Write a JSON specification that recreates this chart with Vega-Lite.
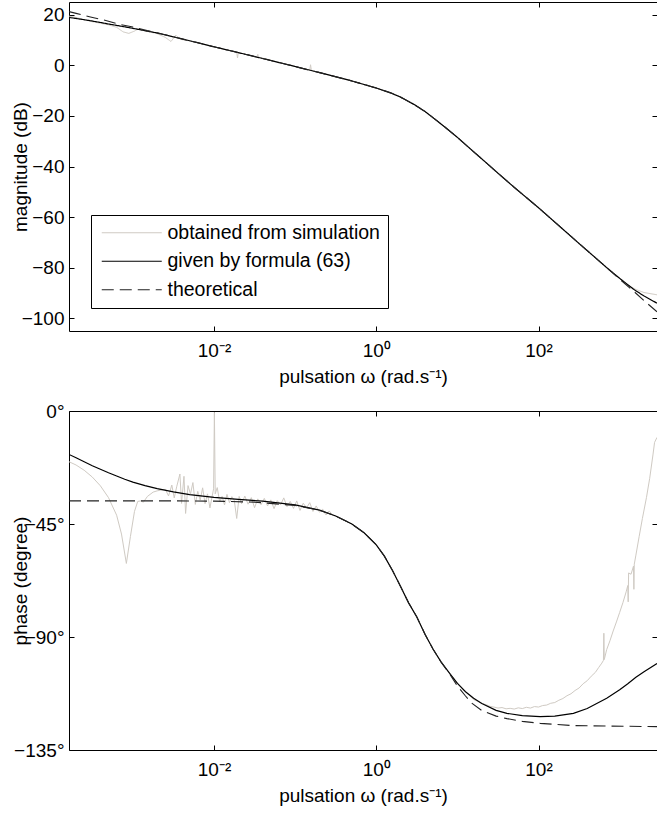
{
"$schema": "https://vega.github.io/schema/vega-lite/v6.json",
"padding": {"left": 10, "top": 1, "right": 0, "bottom": 0},
"background": "white",
"config": {
  "font": "Liberation Sans",
  "view": {"stroke": "#000", "strokeWidth": 1},
  "axis": {"grid": false, "domain": false, "ticks": true, "tickSize": -5, "tickColor": "#000", "tickWidth": 1, "labelFontSize": 19, "titleFontSize": 19, "labelColor": "#000", "titleColor": "#000", "titleFontWeight": "normal", "labelFont": "Liberation Sans", "titleFont": "Liberation Sans"},
  "axisX": {"labelPadding": 15, "titlePadding": 7},
  "axisY": {"labelPadding": 10, "titleX": -39},
  "concat": {"spacing": 14}
},
"datasets": {
"mag": [
{"x":-3.787,"y":21.2,"s":"th"},{"x":-3.7,"y":20.5,"s":"th"},{"x":-3.523,"y":19.1,"s":"th"},{"x":-3.398,"y":18.2,"s":"th"},{"x":-3.301,"y":17.4,"s":"th"},{"x":-3.155,"y":16.1,"s":"th"},{"x":-3,"y":15.1,"s":"th"},{"x":-2.824,"y":13.7,"s":"th"},{"x":-2.699,"y":12.8,"s":"th"},{"x":-2.523,"y":11.4,"s":"th"},{"x":-2.301,"y":9.7,"s":"th"},{"x":-2,"y":7.3,"s":"th"},{"x":-1.699,"y":5.0,"s":"th"},{"x":-1.301,"y":1.9,"s":"th"},{"x":-1,"y":-0.5,"s":"th"},{"x":-0.699,"y":-2.9,"s":"th"},{"x":-0.301,"y":-6.2,"s":"th"},{"x":0,"y":-9.0,"s":"th"},{"x":0.176,"y":-10.9,"s":"th"},{"x":0.301,"y":-12.6,"s":"th"},{"x":0.477,"y":-15.7,"s":"th"},{"x":0.602,"y":-18.3,"s":"th"},{"x":0.699,"y":-20.7,"s":"th"},{"x":0.845,"y":-24.4,"s":"th"},{"x":1,"y":-28.5,"s":"th"},{"x":1.176,"y":-33.5,"s":"th"},{"x":1.301,"y":-37.0,"s":"th"},{"x":1.477,"y":-42.0,"s":"th"},{"x":1.699,"y":-48.2,"s":"th"},{"x":2,"y":-56.3,"s":"th"},{"x":2.301,"y":-64.8,"s":"th"},{"x":2.477,"y":-69.8,"s":"th"},{"x":2.699,"y":-76.0,"s":"th"},{"x":2.845,"y":-80.1,"s":"th"},{"x":3,"y":-84.5,"s":"th"},{"x":3.176,"y":-89.4,"s":"th"},{"x":3.301,"y":-93.0,"s":"th"},{"x":3.46,"y":-97.4,"s":"th"},
{"x":-3.787,"y":18.9,"s":"fit"},{"x":-3.7,"y":18.5,"s":"fit"},{"x":-3.523,"y":17.6,"s":"fit"},{"x":-3.398,"y":16.9,"s":"fit"},{"x":-3.301,"y":16.3,"s":"fit"},{"x":-3.155,"y":15.5,"s":"fit"},{"x":-3,"y":14.6,"s":"fit"},{"x":-2.824,"y":13.5,"s":"fit"},{"x":-2.699,"y":12.75,"s":"fit"},{"x":-2.523,"y":11.4,"s":"fit"},{"x":-2.301,"y":9.7,"s":"fit"},{"x":-2,"y":7.3,"s":"fit"},{"x":-1.699,"y":5.0,"s":"fit"},{"x":-1.301,"y":1.9,"s":"fit"},{"x":-1,"y":-0.5,"s":"fit"},{"x":-0.699,"y":-2.9,"s":"fit"},{"x":-0.301,"y":-6.2,"s":"fit"},{"x":0,"y":-9.0,"s":"fit"},{"x":0.176,"y":-10.9,"s":"fit"},{"x":0.301,"y":-12.6,"s":"fit"},{"x":0.477,"y":-15.7,"s":"fit"},{"x":0.602,"y":-18.3,"s":"fit"},{"x":0.699,"y":-20.7,"s":"fit"},{"x":0.845,"y":-24.4,"s":"fit"},{"x":1,"y":-28.5,"s":"fit"},{"x":1.176,"y":-33.5,"s":"fit"},{"x":1.301,"y":-37.0,"s":"fit"},{"x":1.477,"y":-42.0,"s":"fit"},{"x":1.699,"y":-48.2,"s":"fit"},{"x":2,"y":-56.3,"s":"fit"},{"x":2.301,"y":-64.8,"s":"fit"},{"x":2.477,"y":-69.8,"s":"fit"},{"x":2.699,"y":-76.0,"s":"fit"},{"x":2.845,"y":-80.1,"s":"fit"},{"x":3,"y":-84.2,"s":"fit"},{"x":3.176,"y":-88.6,"s":"fit"},{"x":3.301,"y":-91.2,"s":"fit"},{"x":3.46,"y":-94.0,"s":"fit"},
{"x":-3.787,"y":19.4,"s":"sim"},{"x":-3.7,"y":18.9,"s":"sim"},{"x":-3.6,"y":18.0,"s":"sim"},{"x":-3.5,"y":17.2,"s":"sim"},{"x":-3.4,"y":16.6,"s":"sim"},{"x":-3.3,"y":16.0,"s":"sim"},{"x":-3.2,"y":15.0,"s":"sim"},{"x":-3.12,"y":13.2,"s":"sim"},{"x":-3.05,"y":12.6,"s":"sim"},{"x":-2.98,"y":13.5,"s":"sim"},{"x":-2.93,"y":14.5,"s":"sim"},{"x":-2.88,"y":13.8,"s":"sim"},{"x":-2.8,"y":13.2,"s":"sim"},{"x":-2.7,"y":12.5,"s":"sim"},{"x":-2.6,"y":11.0,"s":"sim"},{"x":-2.53,"y":9.4,"s":"sim"},{"x":-2.47,"y":11.9,"s":"sim"},{"x":-2.42,"y":10.3,"s":"sim"},{"x":-2.3,"y":9.6,"s":"sim"},{"x":-2.1,"y":8.1,"s":"sim"},{"x":-1.9,"y":6.5,"s":"sim"},{"x":-1.72,"y":5.1,"s":"sim"},{"x":-1.71,"y":2.9,"s":"sim"},{"x":-1.7,"y":5.0,"s":"sim"},{"x":-1.47,"y":3.3,"s":"sim"},{"x":-1.46,"y":4.3,"s":"sim"},{"x":-1.45,"y":3.2,"s":"sim"},{"x":-1.2,"y":1.2,"s":"sim"},{"x":-0.82,"y":-1.9,"s":"sim"},{"x":-0.81,"y":0.2,"s":"sim"},{"x":-0.8,"y":-2.0,"s":"sim"},{"x":-0.699,"y":-2.9,"s":"sim"},{"x":-0.301,"y":-6.2,"s":"sim"},{"x":0,"y":-9.0,"s":"sim"},{"x":0.176,"y":-10.9,"s":"sim"},{"x":0.301,"y":-12.6,"s":"sim"},{"x":0.477,"y":-15.7,"s":"sim"},{"x":0.602,"y":-18.3,"s":"sim"},{"x":0.699,"y":-20.7,"s":"sim"},{"x":0.845,"y":-24.4,"s":"sim"},{"x":1,"y":-28.5,"s":"sim"},{"x":1.176,"y":-33.5,"s":"sim"},{"x":1.301,"y":-37.0,"s":"sim"},{"x":1.477,"y":-42.0,"s":"sim"},{"x":1.699,"y":-48.2,"s":"sim"},{"x":2,"y":-56.3,"s":"sim"},{"x":2.301,"y":-64.8,"s":"sim"},{"x":2.477,"y":-69.8,"s":"sim"},{"x":2.699,"y":-76.0,"s":"sim"},{"x":2.845,"y":-80.1,"s":"sim"},{"x":3,"y":-84.2,"s":"sim"},{"x":3.1,"y":-86.9,"s":"sim"},{"x":3.2,"y":-88.6,"s":"sim"},{"x":3.3,"y":-89.8,"s":"sim"},{"x":3.46,"y":-90.7,"s":"sim"}
],
"ph": [
{"x":-3.787,"y":-35.8,"s":"th"},{"x":-2.5,"y":-35.8,"s":"th"},{"x":-2,"y":-35.9,"s":"th"},{"x":-1.5,"y":-36.3,"s":"th"},{"x":-1,"y":-37.6,"s":"th"},{"x":-0.699,"y":-39.5,"s":"th"},{"x":-0.5,"y":-41.8,"s":"th"},{"x":-0.301,"y":-45.0,"s":"th"},{"x":-0.15,"y":-48.5,"s":"th"},{"x":0,"y":-53.3,"s":"th"},{"x":0.1,"y":-57.8,"s":"th"},{"x":0.2,"y":-63.5,"s":"th"},{"x":0.301,"y":-70.0,"s":"th"},{"x":0.4,"y":-76.5,"s":"th"},{"x":0.5,"y":-82.0,"s":"th"},{"x":0.602,"y":-89.0,"s":"th"},{"x":0.699,"y":-94.8,"s":"th"},{"x":0.8,"y":-100.0,"s":"th"},{"x":0.9,"y":-104.5,"s":"th"},{"x":1,"y":-109.5,"s":"th"},{"x":1.1,"y":-113.5,"s":"th"},{"x":1.176,"y":-116.3,"s":"th"},{"x":1.301,"y":-119.3,"s":"th"},{"x":1.477,"y":-121.5,"s":"th"},{"x":1.61,"y":-122.5,"s":"th"},{"x":1.8,"y":-123.6,"s":"th"},{"x":2.02,"y":-124.4,"s":"th"},{"x":2.43,"y":-125.3,"s":"th"},{"x":3.46,"y":-125.7,"s":"th"},
{"x":-3.787,"y":-17.3,"s":"fit"},{"x":-3.7,"y":-18.6,"s":"fit"},{"x":-3.6,"y":-20.2,"s":"fit"},{"x":-3.5,"y":-21.8,"s":"fit"},{"x":-3.4,"y":-23.2,"s":"fit"},{"x":-3.3,"y":-24.6,"s":"fit"},{"x":-3.2,"y":-25.9,"s":"fit"},{"x":-3.1,"y":-27.2,"s":"fit"},{"x":-3,"y":-28.3,"s":"fit"},{"x":-2.85,"y":-29.7,"s":"fit"},{"x":-2.7,"y":-30.9,"s":"fit"},{"x":-2.5,"y":-32.2,"s":"fit"},{"x":-2.3,"y":-33.3,"s":"fit"},{"x":-2,"y":-34.4,"s":"fit"},{"x":-1.7,"y":-35.2,"s":"fit"},{"x":-1.4,"y":-35.9,"s":"fit"},{"x":-1,"y":-37.4,"s":"fit"},{"x":-0.699,"y":-39.5,"s":"fit"},{"x":-0.5,"y":-41.8,"s":"fit"},{"x":-0.301,"y":-45.0,"s":"fit"},{"x":-0.15,"y":-48.5,"s":"fit"},{"x":0,"y":-53.3,"s":"fit"},{"x":0.1,"y":-57.8,"s":"fit"},{"x":0.2,"y":-63.5,"s":"fit"},{"x":0.301,"y":-70.0,"s":"fit"},{"x":0.4,"y":-76.5,"s":"fit"},{"x":0.5,"y":-82.0,"s":"fit"},{"x":0.602,"y":-89.0,"s":"fit"},{"x":0.699,"y":-94.8,"s":"fit"},{"x":0.8,"y":-100.0,"s":"fit"},{"x":0.9,"y":-104.3,"s":"fit"},{"x":1,"y":-108.5,"s":"fit"},{"x":1.1,"y":-111.8,"s":"fit"},{"x":1.2,"y":-114.4,"s":"fit"},{"x":1.301,"y":-116.5,"s":"fit"},{"x":1.477,"y":-119.2,"s":"fit"},{"x":1.61,"y":-120.4,"s":"fit"},{"x":1.8,"y":-121.3,"s":"fit"},{"x":2.02,"y":-121.7,"s":"fit"},{"x":2.2,"y":-121.5,"s":"fit"},{"x":2.43,"y":-120.4,"s":"fit"},{"x":2.6,"y":-118.5,"s":"fit"},{"x":2.84,"y":-114.4,"s":"fit"},{"x":3.0,"y":-111.0,"s":"fit"},{"x":3.1,"y":-108.6,"s":"fit"},{"x":3.2,"y":-106.0,"s":"fit"},{"x":3.3,"y":-103.8,"s":"fit"},{"x":3.46,"y":-100.6,"s":"fit"},
{"x":-3.787,"y":-20.2,"s":"sim"},{"x":-3.7,"y":-21.5,"s":"sim"},{"x":-3.6,"y":-23.6,"s":"sim"},{"x":-3.5,"y":-26.3,"s":"sim"},{"x":-3.4,"y":-29.8,"s":"sim"},{"x":-3.3,"y":-34.5,"s":"sim"},{"x":-3.2,"y":-41.5,"s":"sim"},{"x":-3.14,"y":-49.0,"s":"sim"},{"x":-3.08,"y":-60.7,"s":"sim"},{"x":-3.03,"y":-50.0,"s":"sim"},{"x":-2.98,"y":-40.0,"s":"sim"},{"x":-2.94,"y":-36.0,"s":"sim"},{"x":-2.9,"y":-35.8,"s":"sim"},{"x":-2.87,"y":-36.3,"s":"sim"},{"x":-2.82,"y":-34.0,"s":"sim"},{"x":-2.75,"y":-32.3,"s":"sim"},{"x":-2.7,"y":-31.8,"s":"sim"},{"x":-2.64,"y":-31.4,"s":"sim"},{"x":-2.6,"y":-31.2,"s":"sim"},{"x":-2.56,"y":-33.8,"s":"sim"},{"x":-2.52,"y":-29.5,"s":"sim"},{"x":-2.49,"y":-34.6,"s":"sim"},{"x":-2.46,"y":-30.2,"s":"sim"},{"x":-2.42,"y":-25.1,"s":"sim"},{"x":-2.4,"y":-36.8,"s":"sim"},{"x":-2.37,"y":-26.0,"s":"sim"},{"x":-2.35,"y":-40.8,"s":"sim"},{"x":-2.32,"y":-29.7,"s":"sim"},{"x":-2.29,"y":-33.1,"s":"sim"},{"x":-2.26,"y":-28.5,"s":"sim"},{"x":-2.23,"y":-37.2,"s":"sim"},{"x":-2.2,"y":-32.0,"s":"sim"},{"x":-2.17,"y":-35.5,"s":"sim"},{"x":-2.14,"y":-30.6,"s":"sim"},{"x":-2.11,"y":-36.9,"s":"sim"},{"x":-2.08,"y":-33.0,"s":"sim"},{"x":-2.05,"y":-38.6,"s":"sim"},{"x":-2.02,"y":-33.5,"s":"sim"},{"x":-2.005,"y":-31.0,"s":"sim"},{"x":-1.995,"y":-0.5,"s":"sim"},{"x":-1.985,"y":-33.0,"s":"sim"},{"x":-1.96,"y":-30.5,"s":"sim"},{"x":-1.93,"y":-36.2,"s":"sim"},{"x":-1.9,"y":-34.0,"s":"sim"},{"x":-1.87,"y":-37.4,"s":"sim"},{"x":-1.84,"y":-33.2,"s":"sim"},{"x":-1.81,"y":-36.5,"s":"sim"},{"x":-1.78,"y":-34.1,"s":"sim"},{"x":-1.75,"y":-35.6,"s":"sim"},{"x":-1.72,"y":-42.8,"s":"sim"},{"x":-1.69,"y":-34.0,"s":"sim"},{"x":-1.66,"y":-36.9,"s":"sim"},{"x":-1.62,"y":-33.9,"s":"sim"},{"x":-1.58,"y":-37.1,"s":"sim"},{"x":-1.54,"y":-34.5,"s":"sim"},{"x":-1.5,"y":-38.5,"s":"sim"},{"x":-1.46,"y":-35.0,"s":"sim"},{"x":-1.42,"y":-37.3,"s":"sim"},{"x":-1.38,"y":-34.8,"s":"sim"},{"x":-1.34,"y":-37.8,"s":"sim"},{"x":-1.3,"y":-35.4,"s":"sim"},{"x":-1.26,"y":-38.9,"s":"sim"},{"x":-1.22,"y":-35.7,"s":"sim"},{"x":-1.18,"y":-37.4,"s":"sim"},{"x":-1.14,"y":-34.6,"s":"sim"},{"x":-1.1,"y":-38.1,"s":"sim"},{"x":-1.06,"y":-36.0,"s":"sim"},{"x":-1.02,"y":-38.8,"s":"sim"},{"x":-0.98,"y":-35.8,"s":"sim"},{"x":-0.94,"y":-39.6,"s":"sim"},{"x":-0.9,"y":-36.7,"s":"sim"},{"x":-0.86,"y":-38.6,"s":"sim"},{"x":-0.82,"y":-36.5,"s":"sim"},{"x":-0.78,"y":-40.0,"s":"sim"},{"x":-0.74,"y":-37.8,"s":"sim"},{"x":-0.7,"y":-40.3,"s":"sim"},{"x":-0.66,"y":-39.1,"s":"sim"},{"x":-0.62,"y":-41.4,"s":"sim"},{"x":-0.58,"y":-39.8,"s":"sim"},{"x":-0.54,"y":-41.5,"s":"sim"},{"x":-0.5,"y":-41.8,"s":"sim"},{"x":-0.301,"y":-45.0,"s":"sim"},{"x":-0.15,"y":-48.5,"s":"sim"},{"x":0,"y":-53.3,"s":"sim"},{"x":0.1,"y":-57.8,"s":"sim"},{"x":0.2,"y":-63.5,"s":"sim"},{"x":0.301,"y":-70.0,"s":"sim"},{"x":0.4,"y":-76.5,"s":"sim"},{"x":0.5,"y":-82.0,"s":"sim"},{"x":0.602,"y":-89.0,"s":"sim"},{"x":0.699,"y":-94.8,"s":"sim"},{"x":0.8,"y":-100.0,"s":"sim"},{"x":0.9,"y":-104.3,"s":"sim"},{"x":1.0,"y":-108.3,"s":"sim"},{"x":1.1,"y":-111.8,"s":"sim"},{"x":1.2,"y":-114.9,"s":"sim"},{"x":1.25,"y":-115.6,"s":"sim"},{"x":1.3,"y":-116.4,"s":"sim"},{"x":1.35,"y":-116.9,"s":"sim"},{"x":1.4,"y":-117.6,"s":"sim"},{"x":1.45,"y":-117.9,"s":"sim"},{"x":1.5,"y":-118.3,"s":"sim"},{"x":1.55,"y":-118.1,"s":"sim"},{"x":1.6,"y":-118.6,"s":"sim"},{"x":1.65,"y":-118.4,"s":"sim"},{"x":1.7,"y":-118.7,"s":"sim"},{"x":1.75,"y":-118.2,"s":"sim"},{"x":1.8,"y":-118.5,"s":"sim"},{"x":1.85,"y":-118.0,"s":"sim"},{"x":1.9,"y":-118.3,"s":"sim"},{"x":1.95,"y":-117.7,"s":"sim"},{"x":2.0,"y":-117.9,"s":"sim"},{"x":2.05,"y":-117.3,"s":"sim"},{"x":2.1,"y":-117.1,"s":"sim"},{"x":2.15,"y":-116.4,"s":"sim"},{"x":2.2,"y":-116.1,"s":"sim"},{"x":2.25,"y":-115.2,"s":"sim"},{"x":2.3,"y":-114.5,"s":"sim"},{"x":2.35,"y":-113.4,"s":"sim"},{"x":2.4,"y":-112.6,"s":"sim"},{"x":2.45,"y":-111.3,"s":"sim"},{"x":2.5,"y":-110.3,"s":"sim"},{"x":2.55,"y":-108.6,"s":"sim"},{"x":2.6,"y":-107.4,"s":"sim"},{"x":2.65,"y":-105.6,"s":"sim"},{"x":2.7,"y":-104.1,"s":"sim"},{"x":2.74,"y":-102.2,"s":"sim"},{"x":2.78,"y":-100.4,"s":"sim"},{"x":2.8,"y":-99.3,"s":"sim"},{"x":2.805,"y":-88.5,"s":"sim"},{"x":2.81,"y":-99.0,"s":"sim"},{"x":2.84,"y":-95.0,"s":"sim"},{"x":2.88,"y":-91.5,"s":"sim"},{"x":2.92,"y":-87.6,"s":"sim"},{"x":2.96,"y":-84.0,"s":"sim"},{"x":3.0,"y":-80.2,"s":"sim"},{"x":3.04,"y":-76.3,"s":"sim"},{"x":3.08,"y":-72.0,"s":"sim"},{"x":3.1,"y":-69.5,"s":"sim"},{"x":3.105,"y":-76.0,"s":"sim"},{"x":3.11,"y":-64.5,"s":"sim"},{"x":3.14,"y":-65.0,"s":"sim"},{"x":3.17,"y":-61.8,"s":"sim"},{"x":3.175,"y":-71.0,"s":"sim"},{"x":3.18,"y":-61.0,"s":"sim"},{"x":3.2,"y":-57.4,"s":"sim"},{"x":3.24,"y":-50.0,"s":"sim"},{"x":3.28,"y":-42.8,"s":"sim"},{"x":3.33,"y":-34.5,"s":"sim"},{"x":3.37,"y":-26.8,"s":"sim"},{"x":3.41,"y":-17.5,"s":"sim"},{"x":3.43,"y":-12.5,"s":"sim"},{"x":3.46,"y":-10.5,"s":"sim"}
]
},
"vconcat": [
{
  "width": 588, "height": 329,
  "data": {"name": "mag"},
  "encoding": {
    "color": {"field": "s", "type": "nominal", "scale": {"domain": ["sim", "fit", "th"], "range": ["#cfcac3", "#000000", "#222222"]},
      "legend": {"orient": "none", "legendX": 22, "legendY": 213, "title": null, "symbolType": "M-5,0H5", "symbolSize": 144, "symbolStrokeWidth": 1.2, "labelExpr": "datum.label == 'sim' ? 'obtained from simulation' : datum.label == 'fit' ? 'given by formula (63)' : 'theoretical'", "fillColor": "#ffffff", "strokeColor": "#000000", "padding": 8, "labelFontSize": 19.5, "labelColor": "#000", "labelOffset": 26, "labelLimit": 0, "symbolOffset": 23, "rowPadding": 7.5}},
    "strokeDash": {"field": "s", "type": "nominal", "scale": {"domain": ["sim", "fit", "th"], "range": [[1, 0], [1, 0], [12, 6]]},
      "legend": {"orient": "none", "legendX": 22, "legendY": 213, "title": null, "symbolType": "M-5,0H5", "symbolSize": 144, "symbolStrokeWidth": 1.2, "labelExpr": "datum.label == 'sim' ? 'obtained from simulation' : datum.label == 'fit' ? 'given by formula (63)' : 'theoretical'", "fillColor": "#ffffff", "strokeColor": "#000000", "padding": 8, "labelFontSize": 19.5, "labelColor": "#000", "labelOffset": 26, "labelLimit": 0, "symbolOffset": 23, "rowPadding": 7.5}}
  },
  "layer": [
    {"transform": [{"filter": "datum.s == 'sim'"}], "mark": {"type": "line", "strokeWidth": 1, "clip": true},
     "encoding": {
       "x": {"field": "x", "type": "quantitative", "scale": {"domain": [-3.787, 3.46], "nice": false, "zero": false},
             "axis": {"values": [-2, 0, 2], "labelExpr": "datum.value == -2 ? '10⁻²' : datum.value == 0 ? '10⁰' : '10²'", "title": "pulsation ω (rad.s⁻¹)"}},
       "y": {"field": "y", "type": "quantitative", "scale": {"domain": [-105, 25], "nice": false, "zero": false},
             "axis": {"values": [-100, -80, -60, -40, -20, 0, 20], "title": "magnitude (dB)"}}
     }},
    {"transform": [{"filter": "datum.s == 'fit'"}], "mark": {"type": "line", "strokeWidth": 1.2, "clip": true},
     "encoding": {
       "x": {"field": "x", "type": "quantitative", "scale": {"domain": [-3.787, 3.46], "nice": false, "zero": false}, "axis": null},
       "y": {"field": "y", "type": "quantitative", "scale": {"domain": [-105, 25], "nice": false, "zero": false}, "axis": null}
     }},
    {"transform": [{"filter": "datum.s == 'th'"}], "mark": {"type": "line", "strokeWidth": 1.1, "clip": true},
     "encoding": {
       "x": {"field": "x", "type": "quantitative", "scale": {"domain": [-3.787, 3.46], "nice": false, "zero": false}, "axis": null},
       "y": {"field": "y", "type": "quantitative", "scale": {"domain": [-105, 25], "nice": false, "zero": false}, "axis": null}
     }},
    {"mark": {"type": "point", "opacity": 0},
     "encoding": {
       "x": {"field": "x", "type": "quantitative", "scale": {"domain": [-3.787, 3.46], "nice": false, "zero": false},
             "axis": {"orient": "top", "values": [-2, 0, 2], "labels": false, "title": null}},
       "y": {"field": "y", "type": "quantitative", "scale": {"domain": [-105, 25], "nice": false, "zero": false},
             "axis": {"orient": "right", "values": [-100, -80, -60, -40, -20, 0, 20], "labels": false, "title": null}}
     }}
  ],
  "resolve": {"axis": {"x": "independent", "y": "independent"}}
},
{
  "width": 588, "height": 339,
  "data": {"name": "ph"},
  "layer": [
    {"transform": [{"filter": "datum.s == 'sim'"}], "mark": {"type": "line", "strokeWidth": 1, "color": "#cfcac3", "clip": true},
     "encoding": {
       "x": {"field": "x", "type": "quantitative", "scale": {"domain": [-3.787, 3.46], "nice": false, "zero": false},
             "axis": {"values": [-2, 0, 2], "labelExpr": "datum.value == -2 ? '10⁻²' : datum.value == 0 ? '10⁰' : '10²'", "title": "pulsation ω (rad.s⁻¹)"}},
       "y": {"field": "y", "type": "quantitative", "scale": {"domain": [-135, 0], "nice": false, "zero": false},
             "axis": {"values": [-135, -90, -45, 0], "labelExpr": "datum.label + '°'", "title": "phase (degree)"}}
     }},
    {"transform": [{"filter": "datum.s == 'fit'"}], "mark": {"type": "line", "strokeWidth": 1.2, "color": "#000000", "clip": true},
     "encoding": {
       "x": {"field": "x", "type": "quantitative", "scale": {"domain": [-3.787, 3.46], "nice": false, "zero": false}, "axis": null},
       "y": {"field": "y", "type": "quantitative", "scale": {"domain": [-135, 0], "nice": false, "zero": false}, "axis": null}
     }},
    {"transform": [{"filter": "datum.s == 'th'"}], "mark": {"type": "line", "strokeWidth": 1.1, "color": "#222222", "strokeDash": [12, 6], "clip": true},
     "encoding": {
       "x": {"field": "x", "type": "quantitative", "scale": {"domain": [-3.787, 3.46], "nice": false, "zero": false}, "axis": null},
       "y": {"field": "y", "type": "quantitative", "scale": {"domain": [-135, 0], "nice": false, "zero": false}, "axis": null}
     }},
    {"mark": {"type": "point", "opacity": 0},
     "encoding": {
       "x": {"field": "x", "type": "quantitative", "scale": {"domain": [-3.787, 3.46], "nice": false, "zero": false},
             "axis": {"orient": "top", "values": [-2, 0, 2], "labels": false, "title": null}},
       "y": {"field": "y", "type": "quantitative", "scale": {"domain": [-135, 0], "nice": false, "zero": false},
             "axis": {"orient": "right", "values": [-135, -90, -45, 0], "labels": false, "title": null}}
     }}
  ],
  "resolve": {"axis": {"x": "independent", "y": "independent"}}
}
],
"resolve": {"scale": {"color": "independent", "strokeDash": "independent"}, "legend": {"color": "independent", "strokeDash": "independent"}}
}
